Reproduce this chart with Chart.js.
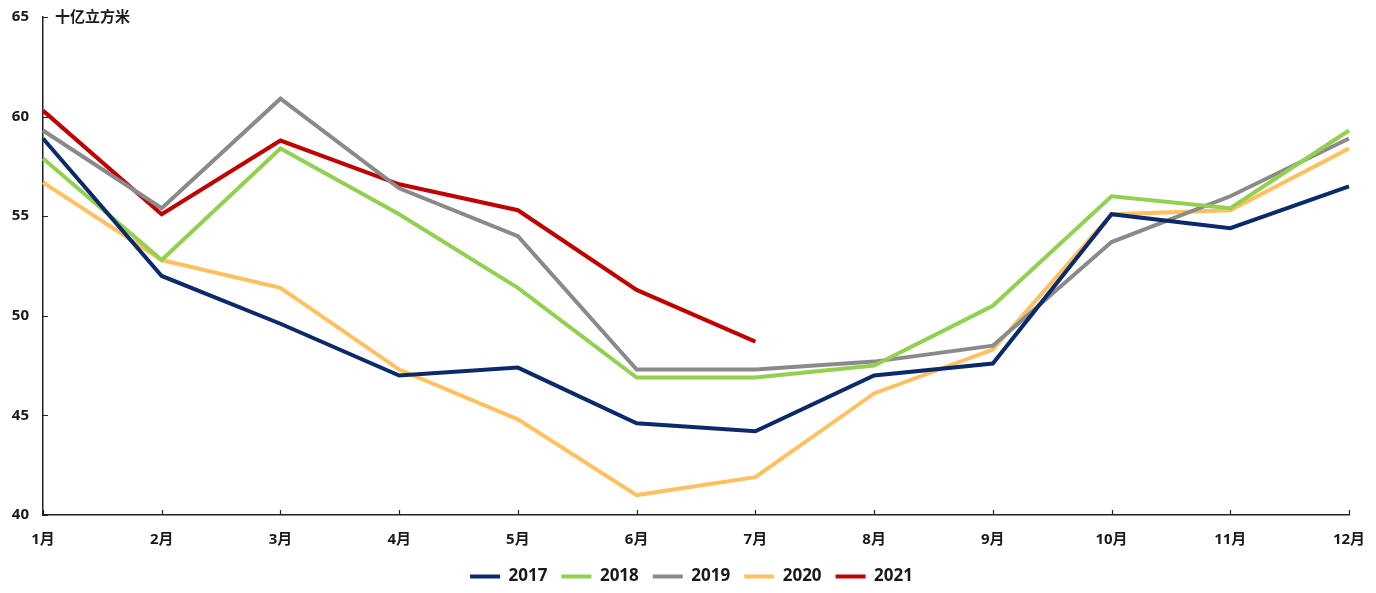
<!DOCTYPE html>
<html>
<head>
<meta charset="utf-8">
<script src="https://cdn.jsdelivr.net/npm/chart.js@4"></script>
<style>
html,body{margin:0;padding:0;background:#fff;}
#wrap{position:relative;width:1376px;height:593px;}
</style>
</head>
<body>
<div id="wrap"><canvas id="c" width="1376" height="593"></canvas></div>
<script>
const categories = ['1月','2月','3月','4月','5月','6月','7月','8月','9月','10月','11月','12月'];
const seriesNames = ['2017','2018','2019','2020','2021'];
const s2017 = [58.9, 52.0, 49.6, 47.0, 47.4, 44.6, 44.2, 47.0, 47.6, 55.1, 54.4, 56.5];
const s2018 = [57.9, 52.8, 58.4, 55.1, 51.4, 46.9, 46.9, 47.5, 50.5, 56.0, 55.4, 59.3];
const s2019 = [59.3, 55.4, 60.9, 56.4, 54.0, 47.3, 47.3, 47.7, 48.5, 53.7, 56.0, 58.9];
const s2020 = [56.7, 52.8, 51.4, 47.3, 44.8, 41.0, 41.9, 46.1, 48.3, 55.1, 55.3, 58.4];
const s2021 = [60.3, 55.1, 58.8, 56.6, 55.3, 51.3, 48.7];
const yTicks = [40, 45, 50, 55, 60, 65];
const unitLabel = '十亿立方米';

const colors = ['#0b2a6c', '#92d050', '#8a8a8a', '#ffc060', '#c00000'];
const allSeries = [s2017, s2018, s2019, s2020, s2021];
const FONT = '"Open Sans", "Noto Sans CJK SC", sans-serif';
const TXT = '#1a1a1a';

const datasets = allSeries.map((d, i) => ({
  label: seriesNames[i],
  data: d,
  borderColor: colors[i],
  backgroundColor: colors[i],
  borderWidth: 4,
  pointRadius: 0,
  pointHoverRadius: 0,
  tension: 0,
  fill: false,
  borderJoinStyle: 'miter'
}));

const innerTicks = {
  id: 'innerTicks',
  afterLayout(chart) {
    const l = chart.legend;
    if (l) { l.left += 17; l.right += 17; l.top += 2; l.bottom += 2; }
  },
  afterDraw(chart) {
    const ctx = chart.ctx;
    const x = chart.scales.x, y = chart.scales.y;
    ctx.save();
    ctx.strokeStyle = '#222';
    ctx.lineWidth = 1.2;
    ctx.beginPath();
    y.ticks.forEach((t, i) => {
      const py = Math.round(y.getPixelForTick(i)) + 0.5;
      ctx.moveTo(x.left, py); ctx.lineTo(x.left + 5, py);
    });
    x.ticks.forEach((t, i) => {
      const px = Math.round(x.getPixelForTick(i)) + 0.5;
      ctx.moveTo(px, y.bottom); ctx.lineTo(px, y.bottom - 5);
    });
    ctx.stroke();
    ctx.fillStyle = TXT;
    ctx.font = 'bold 15px ' + FONT;
    ctx.textAlign = 'left';
    ctx.textBaseline = 'middle';
    ctx.fillText(unitLabel, x.left + 12, y.getPixelForValue(65) + 1);
    ctx.restore();
  }
};

new Chart(document.getElementById('c'), {
  type: 'line',
  data: { labels: categories, datasets },
  options: {
    responsive: false,
    animation: false,
    devicePixelRatio: 1,
    layout: { padding: { top: 17, left: 0, right: 27, bottom: 0 } },
    plugins: {
      tooltip: { enabled: false },
      legend: {
        position: 'bottom',
        labels: {
          boxWidth: 30,
          boxHeight: 4,
          padding: 14,
          color: TXT,
          font: { family: FONT, size: 17, weight: 'bold' },
          generateLabels(chart) {
            return chart.data.datasets.map((ds, i) => ({
              text: ds.label,
              fillStyle: ds.borderColor,
              strokeStyle: ds.borderColor,
              lineWidth: 0,
              datasetIndex: i,
              hidden: false,
              fontColor: TXT
            }));
          }
        }
      }
    },
    scales: {
      x: {
        type: 'category',
        offset: false,
        grid: { display: false, drawTicks: false },
        border: { display: true, color: '#222', width: 1.5 },
        ticks: { color: TXT, padding: 16, font: { family: FONT, size: 15, weight: 'bold' }, maxRotation: 0, autoSkip: false },
        afterFit(s) { s.height = 37; s.paddingLeft = 0; s.paddingRight = 0; }
      },
      y: {
        min: 40, max: 65,
        afterBuildTicks(s) { s.ticks = yTicks.map(v => ({ value: v })); },
        grid: { display: false, drawTicks: false },
        border: { display: true, color: '#222', width: 1.5 },
        ticks: { color: TXT, padding: 14, font: { family: FONT, size: 15, weight: 'bold' } },
        afterFit(s) { s.width = 43; s.paddingTop = 0; s.paddingBottom = 0; }
      }
    }
  },
  plugins: [innerTicks]
});
</script>
</body>
</html>
